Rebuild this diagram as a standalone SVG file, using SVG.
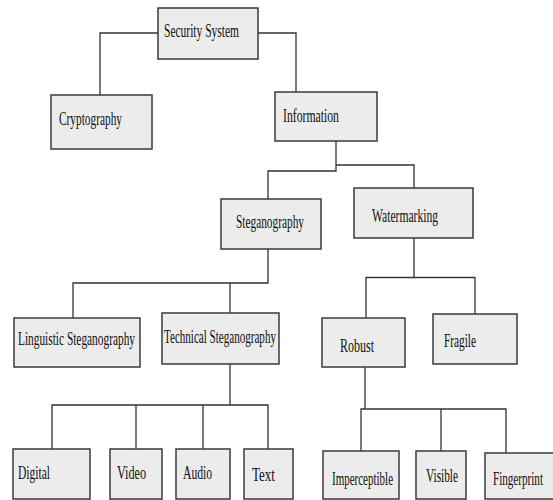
<svg xmlns="http://www.w3.org/2000/svg" width="553" height="500" viewBox="0 0 553 500">
  <style>
    .box { fill: #ececec; stroke: #3a3a3a; stroke-width: 1.5; }
    .lbl { font-family: "Liberation Serif", "Times New Roman", serif; font-size: 18.5px; fill: #111; }
    .wire { fill: none; stroke: #333; stroke-width: 1.3; }
  </style>
  <rect width="553" height="500" fill="#ffffff"/>

  <!-- connectors -->
  <g id="connectors" class="wire">
    <polyline points="158,33 100,33 100,95"/>
    <polyline points="258,33 296,33 296,92"/>
    <polyline points="336,141 336,171 268,171 268,199"/>
    <polyline points="336,165 414,165 414,188"/>
    <polyline points="268,249 268,283 73,283 73,318"/>
    <line x1="230" y1="283" x2="230" y2="313"/>
    <polyline points="414,238 414,277.5 366,277.5 366,318"/>
    <polyline points="414,277.5 475,277.5 475,314"/>
    <polyline points="230,364 230,405"/>
    <polyline points="52,449 52,405 268,405 268,449"/>
    <line x1="136" y1="405" x2="136" y2="449"/>
    <line x1="203" y1="405" x2="203" y2="449"/>
    <polyline points="365,367 365,409"/>
    <polyline points="361,451 361,409 506,409 506,453"/>
    <line x1="441" y1="409" x2="441" y2="451"/>
  </g>

  <!-- labels use a narrow serif: horizontally squeezed Times-style text -->
  <g id="security-system">
    <rect class="box" x="158" y="8" width="100" height="51"/>
    <text class="lbl" transform="translate(164 37) scale(0.62 1)" textLength="121" lengthAdjust="spacingAndGlyphs">Security System</text>
  </g>
  <g id="cryptography">
    <rect class="box" x="51" y="95" width="101" height="54"/>
    <text class="lbl" transform="translate(59 125) scale(0.62 1)" textLength="101.6" lengthAdjust="spacingAndGlyphs">Cryptography</text>
  </g>
  <g id="information">
    <rect class="box" x="275" y="92" width="102" height="49"/>
    <text class="lbl" transform="translate(283 122) scale(0.62 1)" textLength="90.3" lengthAdjust="spacingAndGlyphs">Information</text>
  </g>
  <g id="steganography">
    <rect class="box" x="221" y="199" width="100" height="50"/>
    <text class="lbl" transform="translate(236 228) scale(0.62 1)" textLength="109.7" lengthAdjust="spacingAndGlyphs">Steganography</text>
  </g>
  <g id="watermarking">
    <rect class="box" x="354" y="188" width="119" height="50"/>
    <text class="lbl" transform="translate(372 222) scale(0.62 1)" textLength="106.5" lengthAdjust="spacingAndGlyphs">Watermarking</text>
  </g>
  <g id="linguistic-steganography">
    <rect class="box" x="14" y="318" width="126" height="49"/>
    <text class="lbl" transform="translate(18 345) scale(0.62 1)" textLength="188.7" lengthAdjust="spacingAndGlyphs">Linguistic Steganography</text>
  </g>
  <g id="technical-steganography">
    <rect class="box" x="162" y="313" width="117" height="51"/>
    <text class="lbl" transform="translate(164 343) scale(0.62 1)" textLength="180.6" lengthAdjust="spacingAndGlyphs">Technical Steganography</text>
  </g>
  <g id="robust">
    <rect class="box" x="322" y="318" width="83" height="49"/>
    <text class="lbl" transform="translate(340 352) scale(0.62 1)" textLength="54.8" lengthAdjust="spacingAndGlyphs">Robust</text>
  </g>
  <g id="fragile">
    <rect class="box" x="433" y="314" width="84" height="50"/>
    <text class="lbl" transform="translate(444 347) scale(0.62 1)" textLength="51.6" lengthAdjust="spacingAndGlyphs">Fragile</text>
  </g>
  <g id="digital">
    <rect class="box" x="13" y="449" width="77" height="50"/>
    <text class="lbl" transform="translate(18 479) scale(0.62 1)" textLength="51.6" lengthAdjust="spacingAndGlyphs">Digital</text>
  </g>
  <g id="video">
    <rect class="box" x="110" y="449" width="52" height="50"/>
    <text class="lbl" transform="translate(117 479) scale(0.62 1)" textLength="46.8" lengthAdjust="spacingAndGlyphs">Video</text>
  </g>
  <g id="audio">
    <rect class="box" x="176" y="449" width="54" height="50"/>
    <text class="lbl" transform="translate(183 479) scale(0.62 1)" textLength="46.8" lengthAdjust="spacingAndGlyphs">Audio</text>
  </g>
  <g id="text">
    <rect class="box" x="244" y="449" width="49" height="50"/>
    <text class="lbl" transform="translate(252 481) scale(0.62 1)" textLength="37.1" lengthAdjust="spacingAndGlyphs">Text</text>
  </g>
  <g id="imperceptible">
    <rect class="box" x="323" y="451" width="76" height="48"/>
    <text class="lbl" transform="translate(332 485) scale(0.62 1)" textLength="98.4" lengthAdjust="spacingAndGlyphs">Imperceptible</text>
  </g>
  <g id="visible">
    <rect class="box" x="416" y="451" width="50" height="48"/>
    <text class="lbl" transform="translate(426 482) scale(0.62 1)" textLength="51.6" lengthAdjust="spacingAndGlyphs">Visible</text>
  </g>
  <g id="fingerprint">
    <rect class="box" x="485" y="453" width="70" height="46"/>
    <text class="lbl" transform="translate(493 485) scale(0.62 1)" textLength="80.6" lengthAdjust="spacingAndGlyphs">Fingerprint</text>
  </g>
</svg>
